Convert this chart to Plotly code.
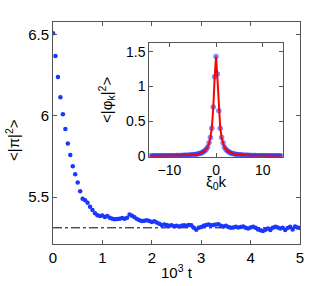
import numpy as np
import plotly.graph_objects as go

# Main panel data: <|pi|^2> vs 10^3 t
t_vals = [round(0.05 * i, 2) for i in range(101)]
pi2_vals = [
    6.51, 6.37, 6.24, 6.115, 6.01, 5.92, 5.83, 5.76, 5.69, 5.64,
    5.59, 5.535, 5.49, 5.48, 5.465, 5.44, 5.42, 5.40, 5.388, 5.383,
    5.386, 5.377, 5.383, 5.372, 5.366, 5.362, 5.364, 5.366, 5.370, 5.366,
    5.372, 5.392, 5.385, 5.375, 5.365, 5.356, 5.352, 5.354, 5.357, 5.352,
    5.346, 5.350, 5.343, 5.335, 5.328, 5.330, 5.327, 5.322, 5.325, 5.320,
    5.322, 5.318, 5.323, 5.325, 5.322, 5.327, 5.325, 5.310, 5.298, 5.310,
    5.315, 5.322, 5.328, 5.330, 5.325, 5.328, 5.330, 5.332, 5.322, 5.318,
    5.322, 5.315, 5.310, 5.312, 5.316, 5.312, 5.315, 5.318, 5.310, 5.306,
    5.312, 5.316, 5.310, 5.300, 5.295, 5.290, 5.298, 5.305, 5.296, 5.310,
    5.316, 5.312, 5.305, 5.310, 5.296, 5.308, 5.316, 5.300, 5.318, 5.312,
    5.308,
]
ref_level = 5.31
ref_t = [0, 5]

# Inset data: <|phi_k|^2> vs xi_0 k
inset_k = [round(-14.1 + 0.3 * i, 2) for i in range(95)]
phi_neg = [
    0.002, 0.002, 0.003, 0.003, 0.003, 0.003, 0.003, 0.003, 0.003, 0.004,
    0.004, 0.004, 0.004, 0.004, 0.005, 0.005, 0.005, 0.006, 0.006, 0.007,
    0.007, 0.008, 0.008, 0.009, 0.010, 0.011, 0.012, 0.013, 0.014, 0.016,
    0.018, 0.020, 0.023, 0.026, 0.030, 0.035, 0.041, 0.050, 0.061, 0.076,
    0.098, 0.13, 0.19, 0.265, 0.40, 0.705, 1.14,
]
phi_pos = [
    1.43,
    1.18, 0.65, 0.40, 0.265, 0.19, 0.13, 0.098, 0.076, 0.061, 0.050,
    0.041, 0.035, 0.030, 0.026, 0.023, 0.020, 0.018, 0.016, 0.014, 0.013,
    0.012, 0.011, 0.010, 0.009, 0.008, 0.008, 0.007, 0.007, 0.006, 0.006,
    0.005, 0.005, 0.005, 0.004, 0.004, 0.004, 0.004, 0.004, 0.003, 0.003,
    0.003, 0.003, 0.003, 0.003, 0.003, 0.002, 0.002,
]
phi_vals = phi_neg + phi_pos
fit_vals = [
    0.002, 0.002, 0.003, 0.003, 0.003, 0.003, 0.003, 0.003, 0.003, 0.004,
    0.004, 0.004, 0.004, 0.004, 0.005, 0.005, 0.005, 0.006, 0.006, 0.007,
    0.007, 0.008, 0.008, 0.009, 0.010, 0.011, 0.012, 0.013, 0.014, 0.016,
    0.018, 0.020, 0.023, 0.026, 0.030, 0.035, 0.041, 0.050, 0.061, 0.076,
    0.098, 0.13, 0.18, 0.263, 0.41, 0.678, 1.12,
    1.43,
    1.12, 0.678, 0.41, 0.263, 0.18, 0.13, 0.098, 0.076, 0.061, 0.050,
    0.041, 0.035, 0.030, 0.026, 0.023, 0.020, 0.018, 0.016, 0.014, 0.013,
    0.012, 0.011, 0.010, 0.009, 0.008, 0.008, 0.007, 0.007, 0.006, 0.006,
    0.005, 0.005, 0.005, 0.004, 0.004, 0.004, 0.004, 0.004, 0.003, 0.003,
    0.003, 0.003, 0.003, 0.003, 0.003, 0.002, 0.002,
]

main_ticks_x = [0, 1, 2, 3, 4, 5]
main_ticks_y = [5.5, 6, 6.5]
inset_ticks_x = [-10, 0, 10]
inset_ticks_y = [0, 0.5, 1, 1.5]

FONT = "Liberation Sans, Arial, sans-serif"
BLUE = "rgb(25,55,255)"
AXC = "#555555"

fig = go.Figure()
fig.add_trace(go.Scatter(x=ref_t, y=[ref_level, ref_level], mode="lines",
                         line=dict(color="black", width=1, dash="dashdot"),
                         xaxis="x", yaxis="y", showlegend=False))
fig.add_trace(go.Scatter(x=t_vals, y=pi2_vals, mode="markers",
                         marker=dict(color=BLUE, size=4.5),
                         xaxis="x", yaxis="y", showlegend=False))
fig.add_trace(go.Scatter(x=inset_k, y=phi_vals, mode="markers",
                         marker=dict(color="rgba(40,60,255,0.6)", size=5.5),
                         xaxis="x2", yaxis="y2", showlegend=False))
fig.add_trace(go.Scatter(x=inset_k, y=fit_vals, mode="lines",
                         line=dict(color="red", width=2),
                         xaxis="x2", yaxis="y2", showlegend=False))

ax_common = dict(showgrid=False, zeroline=False, showline=True, linecolor=AXC,
                 linewidth=1, mirror="ticks", ticks="inside", ticklen=4,
                 tickcolor=AXC, automargin=False)
main_font = dict(family=FONT, size=15, color="black")
inset_font = dict(family=FONT, size=14, color="black")


def px_x(p):
    return (p - 53) / 247


def px_y(p):
    return (244 - p) / 222


fig.update_layout(
    width=332, height=286,
    margin=dict(l=53, r=32, t=22, b=42),
    paper_bgcolor="white", plot_bgcolor="white",
    font=dict(family=FONT, size=15, color="black"),
    xaxis=dict(domain=[0, 1], range=[0, 5], tickvals=main_ticks_x,
               tickfont=main_font, **ax_common),
    yaxis=dict(domain=[0, 1], range=[5.21, 6.58], tickvals=main_ticks_y,
               ticktext=["5.5", "6", "6.5"], tickfont=main_font, **ax_common),
    xaxis2=dict(domain=[0.39, 0.93], range=[-14.3, 14.3], anchor="y2",
                tickvals=inset_ticks_x, tickfont=inset_font, **ax_common),
    yaxis2=dict(domain=[0.393, 0.904], range=[-0.01, 1.62], anchor="x2",
                tickvals=inset_ticks_y, ticktext=["0", "0.5", "1", "1.5"],
                tickfont=inset_font, **ax_common),
    annotations=[
        dict(text="<|π|<sup>2</sup>>", xref="paper", yref="paper",
             x=px_x(12), y=px_y(140), textangle=-90, xanchor="center",
             yanchor="middle", showarrow=False, font=dict(size=15)),
        dict(text="10<sup>3</sup> t", xref="paper", yref="paper",
             x=px_x(177), y=px_y(271), xanchor="center", yanchor="middle",
             showarrow=False, font=dict(size=15)),
        dict(text="<|φ<sub>k</sub>|<sup>2</sup>>", xref="paper", yref="paper",
             x=px_x(107), y=px_y(100), textangle=-90, xanchor="center",
             yanchor="middle", showarrow=False, font=dict(size=15)),
        dict(text="ξ<sub>0</sub>k", xref="paper", yref="paper",
             x=px_x(216), y=px_y(182), xanchor="center", yanchor="middle",
             showarrow=False, font=dict(size=15)),
    ],
)

fig.write_html("out.html", config={"displayModeBar": False},
               post_script="document.body.style.margin='0';")
